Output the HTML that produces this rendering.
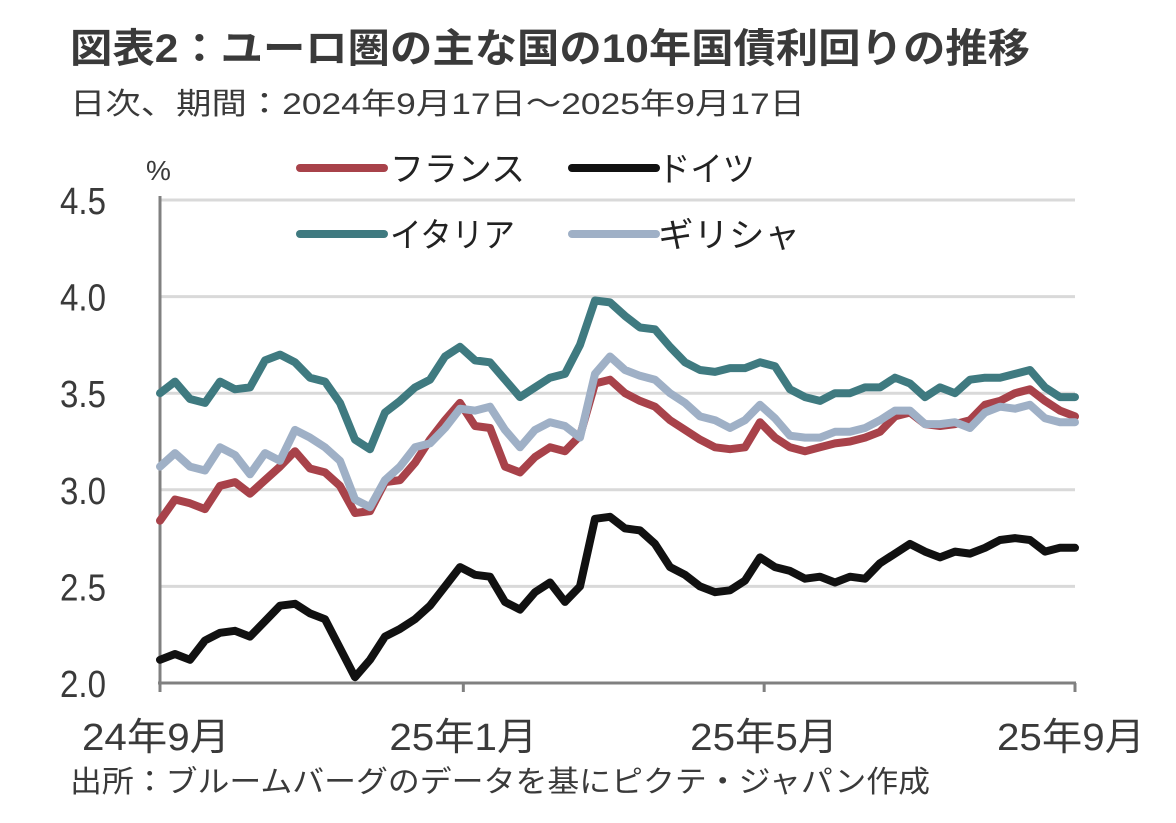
<!DOCTYPE html>
<html><head><meta charset="utf-8"><style>
html,body{margin:0;padding:0;background:#fff;}
body{width:1176px;height:818px;overflow:hidden;font-family:"Liberation Sans","Noto Sans CJK JP",sans-serif;}
svg text{font-family:"Liberation Sans","Noto Sans CJK JP",sans-serif;}
</style></head><body>
<svg id="chart" width="1176" height="818" viewBox="0 0 1176 818" xmlns="http://www.w3.org/2000/svg">
<text x="70" y="62" font-size="40" font-weight="bold" fill="#3a3a3a" textLength="960" lengthAdjust="spacingAndGlyphs">図表2：ユーロ圏の主な国の10年国債利回りの推移</text>
<text x="70" y="114" font-size="30" fill="#3a3a3a" textLength="735" lengthAdjust="spacingAndGlyphs">日次、期間：2024年9月17日～2025年9月17日</text>
<text x="146" y="180" font-size="28" fill="#3a3a3a">%</text>
<g id="grid"></g><g id="yticks"></g><g id="xticks"></g><g id="lines"></g>
<g id="legend">
<line x1="300" y1="168" x2="384" y2="168" stroke="#a8424a" stroke-width="8" stroke-linecap="round"/>
<text x="390" y="181" font-size="34" fill="#222" textLength="135" lengthAdjust="spacingAndGlyphs">フランス</text>
<line x1="572" y1="168" x2="656" y2="168" stroke="#111" stroke-width="8" stroke-linecap="round"/>
<text x="658" y="181" font-size="34" fill="#222" textLength="97" lengthAdjust="spacingAndGlyphs">ドイツ</text>
<line x1="300" y1="234" x2="384" y2="234" stroke="#3f7a80" stroke-width="8" stroke-linecap="round"/>
<text x="390" y="247" font-size="34" fill="#222" textLength="125" lengthAdjust="spacingAndGlyphs">イタリア</text>
<line x1="572" y1="234" x2="656" y2="234" stroke="#9fb0c6" stroke-width="8" stroke-linecap="round"/>
<text x="658" y="247" font-size="34" fill="#222" textLength="142" lengthAdjust="spacingAndGlyphs">ギリシャ</text>
</g>
<text x="70" y="792" font-size="30" fill="#3a3a3a" textLength="860" lengthAdjust="spacingAndGlyphs">出所：ブルームバーグのデータを基にピクテ・ジャパン作成</text>
</svg>
<script>
const yTicks=[2.0,2.5,3.0,3.5,4.0,4.5];
const yTickLabels=["2.0","2.5","3.0","3.5","4.0","4.5"];
const xTickLabels=["24年9月","25年1月","25年5月","25年9月"];
const xTickDays=[0,121,241,365];
const germany=[2.12,2.15,2.12,2.22,2.26,2.27,2.24,2.32,2.40,2.41,2.36,2.33,2.18,2.03,2.12,2.24,2.28,2.33,2.40,2.50,2.60,2.56,2.55,2.42,2.38,2.47,2.52,2.42,2.50,2.85,2.86,2.80,2.79,2.72,2.60,2.56,2.50,2.47,2.48,2.53,2.65,2.60,2.58,2.54,2.55,2.52,2.55,2.54,2.62,2.67,2.72,2.68,2.65,2.68,2.67,2.70,2.74,2.75,2.74,2.68,2.70,2.70];
const italy=[3.50,3.56,3.47,3.45,3.56,3.52,3.53,3.67,3.70,3.66,3.58,3.56,3.45,3.26,3.21,3.40,3.46,3.53,3.57,3.69,3.74,3.67,3.66,3.57,3.48,3.53,3.58,3.60,3.75,3.98,3.97,3.90,3.84,3.83,3.74,3.66,3.62,3.61,3.63,3.63,3.66,3.64,3.52,3.48,3.46,3.50,3.50,3.53,3.53,3.58,3.55,3.48,3.53,3.50,3.57,3.58,3.58,3.60,3.62,3.53,3.48,3.48];
const france=[2.84,2.95,2.93,2.90,3.02,3.04,2.98,3.05,3.12,3.20,3.11,3.09,3.02,2.88,2.89,3.04,3.05,3.14,3.26,3.36,3.45,3.33,3.32,3.12,3.09,3.17,3.22,3.20,3.28,3.55,3.57,3.50,3.46,3.43,3.36,3.31,3.26,3.22,3.21,3.22,3.35,3.27,3.22,3.20,3.22,3.24,3.25,3.27,3.30,3.38,3.40,3.34,3.33,3.34,3.36,3.44,3.46,3.50,3.52,3.46,3.41,3.38];
const greece=[3.12,3.19,3.12,3.10,3.22,3.18,3.08,3.19,3.15,3.31,3.27,3.22,3.15,2.95,2.91,3.05,3.12,3.22,3.24,3.32,3.42,3.41,3.43,3.31,3.22,3.31,3.35,3.33,3.27,3.60,3.69,3.62,3.59,3.57,3.50,3.45,3.38,3.36,3.32,3.36,3.44,3.37,3.28,3.27,3.27,3.30,3.30,3.32,3.36,3.41,3.41,3.34,3.34,3.35,3.32,3.40,3.43,3.42,3.44,3.37,3.35,3.35];
const NS="http://www.w3.org/2000/svg";
const X0=160,X1=1075,Y0=683,Y1=200;
function xs(d){return X0+(X1-X0)*d/365;}
function ys(v){return Y0-(Y0-Y1)*(v-2.0)/2.5;}
function mk(tag,attrs,parent){const e=document.createElementNS(NS,tag);for(const k in attrs)e.setAttribute(k,attrs[k]);parent.appendChild(e);return e;}
const grid=document.getElementById('grid'),yt=document.getElementById('yticks'),xt=document.getElementById('xticks'),lines=document.getElementById('lines');
yTicks.forEach((v,i)=>{
 if(i>0){const g=mk('line',{x1:X0,x2:X1,y1:ys(v),y2:ys(v),stroke:'#d9d9d9','stroke-width':3},grid);
 
 }
 const t=mk('text',{x:106,y:ys(v)+14,'font-size':38,'text-anchor':'end',fill:'#3a3a3a',textLength:46,lengthAdjust:'spacingAndGlyphs'},yt);
 t.textContent=yTickLabels[i];
 
 
});
const ax=mk('line',{x1:X0,x2:X0,y1:Y1-4,y2:Y0,stroke:'#808080','stroke-width':3},grid);


const bx=mk('line',{x1:X0-2,x2:X1+1,y1:Y0,y2:Y0,stroke:'#808080','stroke-width':3},grid);


xTickDays.forEach((d,i)=>{
 const tk=mk('line',{x1:xs(d),x2:xs(d),y1:Y0,y2:Y0+9,stroke:'#808080','stroke-width':3},xt);
 
 
 const anchor=i==0?'start':(i==xTickDays.length-1?'end':'middle');
 const xx=i==0?82:(i==xTickDays.length-1?1145:xs(d));
 const t=mk('text',{x:xx,y:750,'font-size':38,'text-anchor':anchor,fill:'#3a3a3a',textLength:148,lengthAdjust:'spacingAndGlyphs'},xt);
 t.textContent=xTickLabels[i];
 
 
});
function draw(arr,color,name){
 const n=arr.length;
 const pts=arr.map((v,i)=>xs(365*i/(n-1)).toFixed(1)+','+ys(v).toFixed(1)).join(' ');
 const p=mk('polyline',{points:pts,fill:'none',stroke:color,'stroke-width':8,'stroke-linejoin':'round','stroke-linecap':'round'},lines);
 
 
}
draw(italy,'#3f7a80','italy-line');
draw(france,'#a8424a','france-line');
draw(greece,'#9fb0c6','greece-line');
draw(germany,'#111111','germany-line');
</script>
</body></html>
